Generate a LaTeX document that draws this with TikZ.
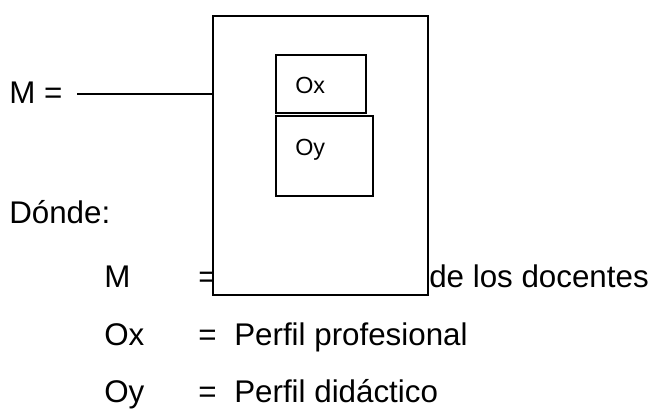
\documentclass[tikz,border=0pt]{standalone}
\usepackage{fontspec}
\setmainfont{Liberation Sans}
\usetikzlibrary{positioning}
\begin{document}
\begin{tikzpicture}[x=0.75pt, y=-0.75pt,
  txt/.style = {anchor=base west, inner sep=0pt, font=\fontsize{23.5}{28}\selectfont},
  small/.style = {anchor=base west, inner sep=0pt, font=\fontsize{17.5}{20}\selectfont},
  caja/.style = {draw, fill=white, anchor=north west, inner sep=0pt, line width=1.5pt}]
\useasboundingbox (0,0) rectangle (659,410);

\node[txt] (meq) at (9,103) {M =};
\node[txt] (donde) at (9,223) {Dónde:};

\node[txt] (m) at (104,287) {M};
\node[txt] (meq2) at (198,287) {=};
\node[txt] (mdesc) at (429,287) {de los docentes};
\node[txt] (ox) at (104,345) {Ox};
\node[txt] (oxeq) at (198,345) {=};
\node[txt] (oxdesc) at (234,345) {Perfil profesional};
\node[txt] (oy) at (104,402) {Oy};
\node[txt] (oyeq) at (198,402) {=};
\node[txt] (oydesc) at (234,402) {Perfil didáctico};

\node[caja, minimum width=161.25pt, minimum height=209.25pt] (muestra) at (212,15) {};
\node[caja, minimum width=67.5pt, minimum height=43.5pt] (boxox) at (275,54) {};
\node[caja, minimum width=72.75pt, minimum height=60pt] (boxoy) at (275,115) {};
\node[small] (lox) at (295,93) {Ox};
\node[small] (loy) at (295,155) {Oy};

\coordinate (lin) at (77,94);
\draw[line width=0.8pt] (lin) -- (lin -| muestra.west);
\end{tikzpicture}
\end{document}
